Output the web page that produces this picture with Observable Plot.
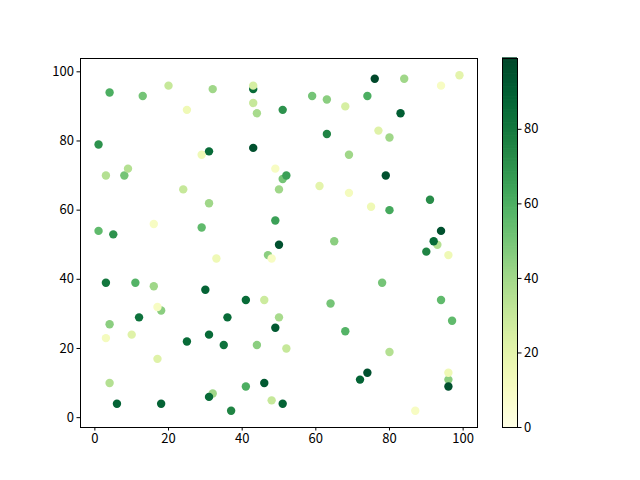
<!DOCTYPE html>
<html>
<head>
<meta charset="UTF-8">
<style>
  body { margin: 0; background: white; }
  #chart { position: relative; width: 640px; height: 480px; }
  #chart svg { position: absolute; left: 0; top: 0; }
</style>
</head>
<body>
<div id="chart"></div>
<script src="https://cdn.jsdelivr.net/npm/d3@7"></script>
<script src="https://cdn.jsdelivr.net/npm/@observablehq/plot@0.6"></script>
<script>
// scatter values
const xs = [4, 13, 20, 32, 25, 1, 29, 31, 3, 8, 9, 24, 31, 16, 1, 5, 29, 43, 43, 43,
            44, 51, 59, 63, 68, 63, 43, 69, 49, 51, 52, 50, 61, 69, 49, 50, 65, 76, 84, 99,
            94, 74, 83, 77, 80, 79, 75, 80, 91, 93, 94, 92, 90, 96, 78, 94, 97, 68, 80, 74,
            72, 96, 96, 96, 87, 33, 3, 11, 16, 30, 18, 17, 12, 4, 3, 10, 25, 31, 17, 4,
            6, 18, 32, 31, 47, 48, 41, 46, 64, 36, 50, 49, 35, 44, 52, 41, 46, 48, 51, 37];
const ys = [94, 93, 96, 95, 89, 79, 76, 77, 70, 70, 72, 66, 62, 56, 54, 53, 55, 95, 96, 91,
            88, 89, 93, 92, 90, 82, 78, 76, 72, 69, 70, 66, 67, 65, 57, 50, 51, 98, 98, 99,
            96, 93, 88, 83, 81, 70, 61, 60, 63, 50, 54, 51, 48, 47, 39, 34, 28, 25, 19, 13,
            11, 11, 13, 9, 2, 46, 39, 39, 38, 37, 31, 32, 29, 27, 23, 24, 22, 24, 17, 10,
            4, 4, 7, 6, 47, 46, 34, 34, 33, 29, 29, 26, 21, 21, 20, 9, 10, 5, 4, 2];
const cs = [60, 50, 30, 40, 15, 70, 15, 85, 35, 50, 35, 30, 40, 10, 55, 70, 55, 85, 25, 30,
            38, 70, 50, 45, 25, 75, 95, 40, 10, 50, 65, 40, 20, 12, 65, 95, 45, 98, 40, 20,
            10, 60, 90, 22, 40, 95, 15, 62, 72, 35, 95, 85, 75, 15, 50, 55, 55, 58, 35, 95,
            88, 45, 15, 95, 10, 15, 80, 58, 40, 88, 45, 10, 82, 45, 12, 22, 85, 85, 22, 35,
            88, 88, 40, 85, 45, 10, 85, 28, 50, 85, 38, 92, 82, 45, 30, 60, 92, 30, 88, 75];
const tickValues = [0, 20, 40, 60, 80, 100];
const barTicks = [0, 20, 40, 60, 80];
const colorMax = 99;

const points = xs.map((x, i) => ({x, y: ys[i], c: cs[i]}));

const font = {fontFamily: "'Noto Sans CJK SC', 'DejaVu Sans', sans-serif", fontSize: "13px", color: "black", background: "none"};
const colorOpts = {type: "linear", scheme: "YlGn", domain: [0, colorMax]};

// matplotlib-style 5% margins
const pad = (lo, hi) => [lo - (hi - lo) * 0.05, hi + (hi - lo) * 0.05];

const main = Plot.plot({
  width: 640,
  height: 480,
  marginLeft: 80,
  marginRight: 163,
  marginTop: 58,
  marginBottom: 53,
  style: font,
  x: {domain: pad(d3.min(xs), d3.max(xs))},
  y: {domain: pad(d3.min(ys), d3.max(ys))},
  color: colorOpts,
  marks: [
    Plot.dot(points, {x: "x", y: "y", fill: "c", r: 4.2}),
    Plot.frame({stroke: "black", strokeWidth: 1}),
    Plot.axisX({ticks: tickValues, tickSize: 3.5, tickPadding: 3, label: null}),
    Plot.axisY({ticks: tickValues, tickSize: 3.5, tickPadding: 3, label: null})
  ]
});

// colorbar as a second plot laid over the first
const step = colorMax / 256;
const levels = d3.range(0, colorMax, step);
const bar = Plot.plot({
  width: 640,
  height: 480,
  marginLeft: 502,
  marginRight: 123,
  marginTop: 58,
  marginBottom: 53,
  style: font,
  x: {domain: [0, 1], axis: null},
  y: {domain: [0, colorMax]},
  color: colorOpts,
  marks: [
    Plot.rect(levels, {x1: 0, x2: 1, y1: d => d, y2: d => d + step * 1.5, fill: d => d}),
    Plot.frame({stroke: "black", strokeWidth: 1}),
    Plot.axisY({anchor: "right", ticks: barTicks, tickSize: 3.5, tickPadding: 3, label: null})
  ]
});

document.querySelector("#chart").append(main, bar);
</script>
</body>
</html>
